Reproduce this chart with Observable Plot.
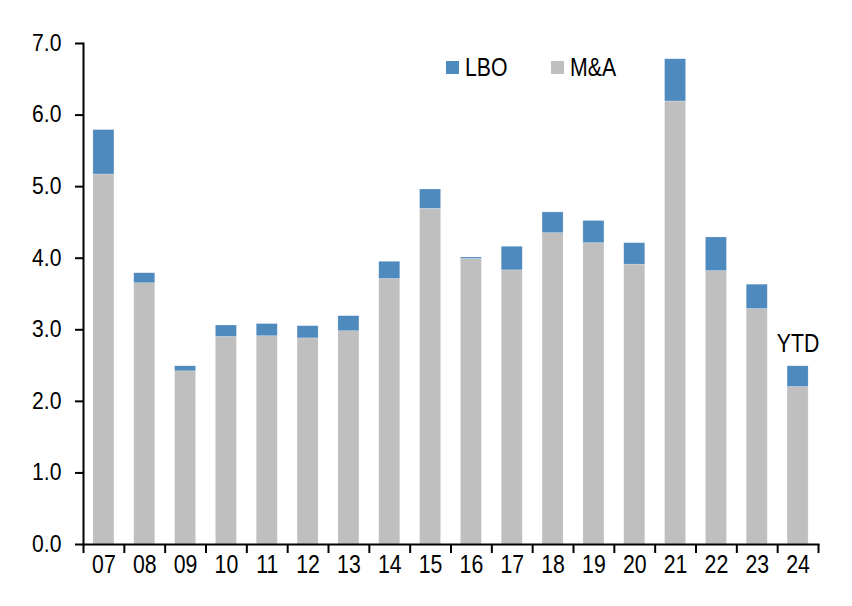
<!DOCTYPE html>
<html>
<head>
<meta charset="utf-8">
<script src="https://cdn.jsdelivr.net/npm/d3@7"></script>
<script src="https://cdn.jsdelivr.net/npm/@observablehq/plot@0.6"></script>
<style>
  body { margin: 0; background: #fff; }
  #wrap { position: relative; width: 852px; height: 606px; font-family: "Liberation Sans", Arial, sans-serif; }
  #wrap svg { display: block; }
  .item { position: absolute; top: 53px; display: flex; align-items: center; font-size: 25px; color: #000; white-space: nowrap; }
  .sw { width: 13px; height: 13px; margin-right: 6px; }
  .lab { display: inline-block; transform: scaleX(0.85); transform-origin: left center; }
</style>
</head>
<body>
<div id="wrap"></div>
<script>
const years = ["07","08","09","10","11","12","13","14","15","16","17","18","19","20","21","22","23","24"];
const mna   = [5.17,3.65,2.42,2.90,2.91,2.88,2.98,3.71,4.69,3.99,3.83,4.35,4.21,3.91,6.19,3.82,3.29,2.20];
const total = [5.79,3.79,2.49,3.06,3.08,3.05,3.19,3.95,4.96,4.01,4.16,4.64,4.52,4.21,6.78,4.29,3.63,2.49];
const series = ["LBO","M&A"];
const colors = ["#4F8ABE","#BFBFBF"];
const yTicks = [0,1,2,3,4,5,6,7];
const ytdLabel = "YTD";

const data = [];
years.forEach((y, i) => {
  data.push({year: y, series: "M&A", value: mna[i]});
  data.push({year: y, series: "LBO", value: +(total[i] - mna[i]).toFixed(2)});
});

const W = 852, H = 606, mL = 83, mR = 34, mT = 43, mB = 62;
const step = (W - mL - mR) / years.length;
const font = '"Liberation Sans", Arial, sans-serif';

const chart = Plot.plot({
  width: W, height: H,
  marginLeft: mL, marginRight: mR, marginTop: mT, marginBottom: mB,
  style: {fontFamily: font, color: "#000", background: "#fff", overflow: "visible"},
  x: {domain: years, paddingInner: 0.485, paddingOuter: 0.2425, round: false, label: null},
  y: {domain: [0, 7], label: null},
  color: {domain: series, range: colors},
  marks: [
    Plot.barY(data, {x: "year", y: "value", fill: "series", order: ["M&A","LBO"], stroke: "#ffffff", strokeOpacity: 0.35, strokeWidth: 0.6}),
    Plot.axisY({ticks: yTicks, tickFormat: d3.format(".1f"), tickSize: 8, tickPadding: 14, fontSize: 23, stroke: "#000", strokeWidth: 2, label: null}),
    Plot.axisX({tickSize: 0, tickPadding: 11, fontSize: 25, label: null}),
    Plot.axisX({text: null, tickSize: 9, strokeWidth: 2, dx: -step / 2, label: null}),
    Plot.axisX({ticks: [years[years.length - 1]], text: null, tickSize: 9, strokeWidth: 2, dx: step / 2, label: null}),
    Plot.frame({anchor: "left", stroke: "#000", strokeWidth: 2}),
    Plot.frame({anchor: "bottom", stroke: "#000", strokeWidth: 2}),
    Plot.text([{year: years[years.length - 1], v: total[total.length - 1]}], {x: "year", y: "v", text: () => ytdLabel, lineAnchor: "bottom", dy: -14, fontSize: 25, fill: "#000"})
  ]
});
document.getElementById("wrap").append(chart);

// emulate a narrow sans face by condensing text horizontally around its anchor
chart.querySelectorAll("text").forEach(t => {
  const g = t.closest("g");
  const isY = g && g.getAttribute("aria-label") === "y-axis tick label";
  const s = isY ? 0.92 : 0.85;
  const x = +(t.getAttribute("x") || 0);
  const tr = t.getAttribute("transform") || "";
  t.setAttribute("transform", `${tr} translate(${x},0) scale(${s},1) translate(${-x},0)`);
});

const wrap = document.getElementById("wrap");
const legendLeft = [446, 551];
series.forEach((s, i) => {
  const item = document.createElement("div");
  item.className = "item";
  item.style.left = legendLeft[i] + "px";
  const sw = document.createElement("div");
  sw.className = "sw";
  sw.style.background = colors[i];
  const t = document.createElement("span");
  t.className = "lab";
  t.textContent = s;
  item.append(sw, t);
  wrap.append(item);
});
</script>
</body>
</html>
